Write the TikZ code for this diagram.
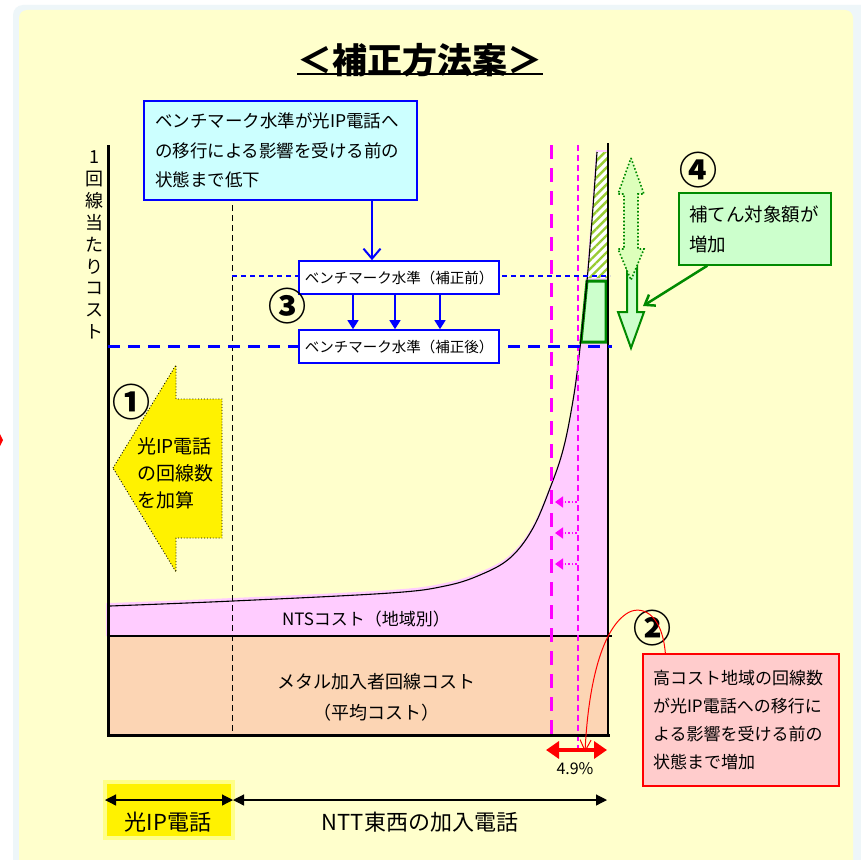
\documentclass[tikz,border=0pt]{standalone}
\usepackage{fontspec}
\setmainfont{Noto Sans CJK JP}
\usetikzlibrary{arrows.meta,patterns.meta}
\newcommand\fsz[2]{\fontsize{#1}{#2}\selectfont}
\definecolor{bgyellow}{HTML}{FFFFCC}
\definecolor{bgblue}{HTML}{EEF6F9}
\definecolor{pinkfill}{HTML}{FFCCFF}
\definecolor{peach}{HTML}{FCD5B4}
\definecolor{lcyan}{HTML}{CCFFFF}
\definecolor{bblue}{HTML}{0000FF}
\definecolor{lgreen}{HTML}{CCFFCC}
\definecolor{dgreen}{HTML}{008A00}
\definecolor{paleyg}{HTML}{DDFFBB}
\definecolor{hatchc}{HTML}{99CC33}
\definecolor{mag}{HTML}{FF00FF}
\definecolor{lred}{HTML}{FFCCCC}
\definecolor{glow}{HTML}{FFFF88}
\begin{document}
\begin{tikzpicture}[x=1pt,y=-1pt,
  bmbox/.style={draw=bblue, line width=1.6, fill=white, minimum width=200, minimum height=33, inner sep=0, font=\fsz{14.5}{17}},
  circnum/.style={inner sep=0, font=\fsz{38}{40}\bfseries},
  lbl/.style={inner sep=0},
  blk2arrow/.style={line width=1.2, {Triangle[length=11,width=11]}-{Triangle[length=11,width=11]}}
]
\useasboundingbox (0,0) rectangle (861,859);
% background
\fill[white] (0,0) rectangle (861,859);
\fill[bgblue, rounded corners=10] (13,5) rectangle (875,890);
\fill[bgyellow, rounded corners=8] (19,10) rectangle (853,890);
\fill[red] (0,434) -- (3,440) -- (0,446) -- cycle;

% pink NTS region
\fill[pinkfill] (106,636) -- (106,603) -- plot[smooth,tension=0.6] coordinates {(110,603) (233,598) (390,590) (445,583) (480,572) (510,555) (533,525) (552,480) (563,447) (571,410) (577,362) (587,268) (596,150)} -- (608,150) -- (608,636) -- cycle;
% peach band
\fill[peach] (108,636) rectangle (608,735);
% hatched area
\fill[white] (597,152) -- (607,152) -- (607,278) -- (588,278) -- cycle;
\fill[pattern={Lines[angle=45,distance=6pt,line width=2.4pt]}, pattern color=hatchc] (597,152) -- (607,152) -- (607,278) -- (588,278) -- cycle;
% green increase box
\draw[fill=lgreen, draw=dgreen, line width=3] (587,281) -- (606,281) -- (606,342) -- (581,342) -- cycle;
% curve
\draw[line width=1.1] plot[smooth,tension=0.6] coordinates {(110,606) (233,601) (390,593) (445,586) (480,575) (510,558) (533,528) (552,483) (563,450) (571,412) (578,365) (588,270) (597,152)};
\draw[line width=1.2] (108,636) -- (612,636);

% dashed verticals
\draw[dashed, dash pattern=on 6 off 4, line width=0.9] (232,145) -- (232,735);
\draw[mag, line width=3, dash pattern=on 14 off 9] (551,145) -- (551,735);
\draw[mag, line width=1.5, dash pattern=on 6 off 4] (578,145) -- (578,748);
% magenta small arrows
\foreach \yy/\nm in {502/ma1,533/ma2,564/ma3}{
  \coordinate (\nm s) at (577,\yy);
  \coordinate (\nm e) at (555,\yy);
  \draw[mag, line width=1.6, dotted, -{Triangle[length=8,width=11]}] (\nm s) -- (\nm e);
}

% axes
\draw[line width=3] (108,145) -- (108,735) -- (610,735);
\draw[line width=2.5] (608,143) -- (608,735);

% blue dashed levels
\draw[bblue, line width=1.1, dash pattern=on 5 off 4] (232,276) -- (610,276);
\draw[bblue, line width=3, dash pattern=on 12 off 8] (108,346) -- (612,346);

% title
\node[lbl, font=\fsz{35}{40}\bfseries] (title) at (420,60) {＜補正方法案＞};
\draw[line width=2] ([yshift=3]title.south west) -- ([yshift=3]title.south east);

% y label
\node[lbl, align=center, font=\fsz{18}{21.9}] (ylab) at (94,245) {1\\回\\線\\当\\た\\り\\コ\\ス\\ト};

% top blue box
\node[draw=bblue, line width=1.5, fill=lcyan, minimum width=273, minimum height=99, inner xsep=0, text width=251, align=left, font=\fsz{17.5}{29.5}] (topbox) at (280.5,150.5) {ベンチマーク水準が光IP電話へ\\の移行による影響を受ける前の\\状態まで低下};

% benchmark boxes
\node[bmbox] (bm1) at (399,277.5) {ベンチマーク水準（補正前）};
\node[bmbox] (bm2) at (399,346.5) {ベンチマーク水準（補正後）};
\coordinate (ax0) at (372,0);
\draw[bblue, line width=2, -{Straight Barb[length=10,width=17,line width=2]}] (topbox.south -| ax0) -- (bm1.north -| ax0);
\foreach \xx/\nm in {353/a1,395/a2,440/a3}{
  \coordinate (\nm) at (\xx,0);
  \draw[bblue, line width=1.3, -{Triangle[length=9,width=11]}] (bm1.south -| \nm) -- (bm2.north -| \nm);
}

% circled numbers
\node[circnum] (n3) at (287,306) {③};
\node[circnum] (n1) at (131,402) {①};
\node[circnum] (n4) at (698,170) {④};
\node[circnum] (n2) at (652,628) {②};

% yellow left arrow
\draw[fill=yellow, dotted, line width=0.9] (113,468) -- (176,365) -- (176,399) -- (222,399) -- (222,538) -- (176,538) -- (176,572) -- cycle;
\node[lbl, anchor=west, align=left, font=\fsz{19}{27}] (yarrtxt) at (137,473) {光IP電話\\の回線数\\を加算};

% green double arrow
\draw[fill=lgreen, draw=dgreen, line width=2] (627,262) -- (637,262) -- (637,312) -- (644,312) -- (631,348) -- (618,312) -- (627,312) -- cycle;
\draw[fill=paleyg, draw=dgreen, dotted, line width=1.6] (631,158) -- (644,194) -- (638,194) -- (638,249) -- (644,249) -- (631,280) -- (618,249) -- (624,249) -- (624,194) -- (618,194) -- cycle;
\coordinate (garrow) at (643,306);

% green label
\node[draw=dgreen, line width=1.3, fill=lgreen, minimum width=152, minimum height=72, inner xsep=0, text width=132, align=left, font=\fsz{18.5}{30}] (glab) at (755,229) {補てん対象額が\\増加};
\draw[dgreen, line width=2.5, -{Straight Barb[length=9,width=13,line width=2.5]}] ([xshift=29]glab.south west) -- (garrow);

% red box
\node[draw=red, line width=1.3, fill=lred, minimum width=196, minimum height=132, inner xsep=0, text width=176, align=left, font=\fsz{17}{27.7}] (rbox) at (741,720) {高コスト地域の回線数\\が光IP電話への移行に\\よる影響を受ける前の\\状態まで増加};
\coordinate (rend) at (585,752);
\draw[red, line width=1, -{Straight Barb[length=11,width=11,line width=1]}] ([xshift=23]rbox.north west) .. controls (662,612) and (640,604) .. (626,614) .. controls (600,632) and (588,690) .. (rend);

% 4.9% arrow
\coordinate (p1) at (546,750);
\coordinate (p2) at (607,750);
\draw[red, line width=4, {Triangle[length=13,width=17]}-{Triangle[length=13,width=17]}] (p1) -- (p2);
\node[lbl, font=\fsz{16}{18}] (pct) at (575,769) {4.9\%};

% region labels
\node[lbl, font=\fsz{17}{20}] (nts) at (366,619) {NTSコスト（地域別）};
\node[lbl, align=center, font=\fsz{18}{31}] (metal) at (376,697) {メタル加入者回線コスト\\（平均コスト）};

% bottom
\node[draw=glow, line width=4, fill=yellow, minimum width=128, minimum height=56, inner sep=0] (ipbox) at (169,810) {};
\node[lbl, font=\fsz{22}{24}] (iptxt) at (168,822) {光IP電話};
\node[lbl, font=\fsz{22}{24}] (ntttxt) at (420,822) {NTT東西の加入電話};
\coordinate (b1) at (105,800);
\coordinate (b2) at (233,800);
\coordinate (b3) at (607,800);
\draw[blk2arrow] (b1) -- (b2);
\draw[blk2arrow] (b2) -- (b3);
\end{tikzpicture}
\end{document}
